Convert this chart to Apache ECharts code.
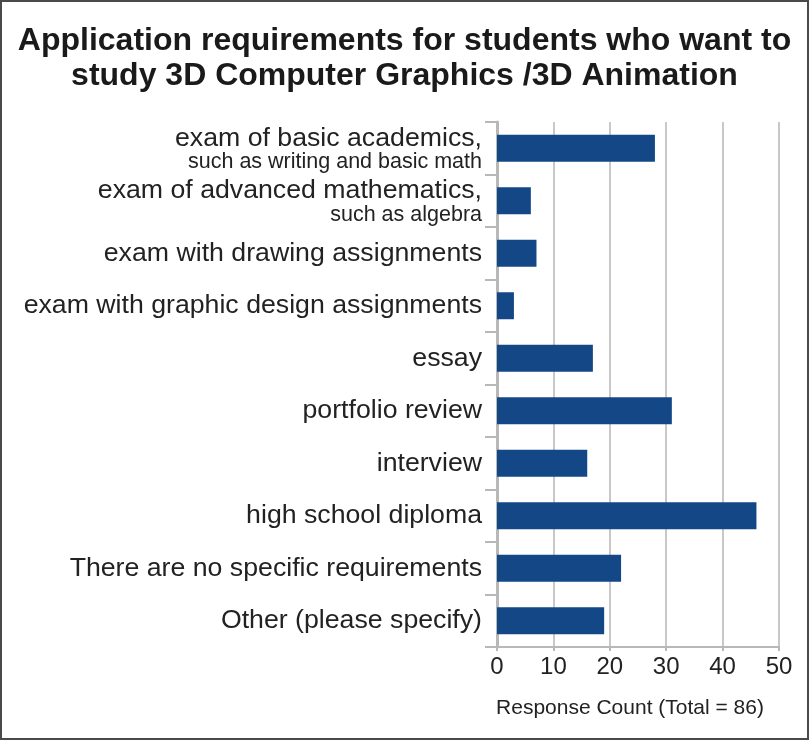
<!DOCTYPE html>
<html>
<head>
<meta charset="utf-8">
<script src="https://cdn.jsdelivr.net/npm/echarts@6/dist/echarts.min.js"></script>
<style>
  html, body { margin: 0; padding: 0; background: #fff; }
  #chart {
    width: 809px;
    height: 740px;
    box-sizing: border-box;
    border: 2px solid #4a4a4a;
  }
</style>
</head>
<body>
<div id="chart"></div>
<script>
// Data
const categories = [
  'exam of basic academics,|such as writing and basic math',
  'exam of advanced mathematics,|such as algebra',
  'exam with drawing assignments',
  'exam with graphic design assignments',
  'essay',
  'portfolio review',
  'interview',
  'high school diploma',
  'There are no specific requirements',
  'Other (please specify)'
]
const counts = [28, 6, 7, 3, 17, 31, 16, 46, 22, 19]
const xTicks = [0, 10, 20, 30, 40, 50]

const titleText = 'Application requirements for students who want to\nstudy 3D Computer Graphics /3D Animation'
const axisTitle = 'Response Count (Total = 86)'

const FONT = '"Liberation Sans", Arial, sans-serif'

const chart = echarts.init(document.getElementById('chart'))

const option = {
  animation: false,
  textStyle: { fontFamily: FONT },
  title: {
    text: titleText,
    left: 'center',
    top: 22,
    padding: [0, 0, 0, 8],
    textStyle: {
      fontFamily: FONT,
      fontSize: 32,
      fontWeight: 'bold',
      color: '#1a1a1a',
      lineHeight: 35
    }
  },
  grid: {
    left: 495,
    right: 28,
    top: 120,
    bottom: 91,
    containLabel: false
  },
  xAxis: {
    type: 'value',
    min: xTicks[0],
    max: xTicks[xTicks.length - 1],
    interval: 10,
    name: axisTitle,
    nameLocation: 'middle',
    nameGap: 51,
    nameTextStyle: {
      fontFamily: FONT,
      fontSize: 21,
      color: '#222',
      padding: [0, 16, 0, 0]
    },
    axisLine: { show: true, lineStyle: { color: '#b8b8b8', width: 2 } },
    axisTick: { show: true, length: 4, lineStyle: { color: '#b8b8b8', width: 2 } },
    axisLabel: { fontFamily: FONT, fontSize: 24, color: '#222', margin: 8 },
    splitLine: { show: true, lineStyle: { color: '#c8c8c8', width: 2 } }
  },
  yAxis: {
    type: 'category',
    inverse: true,
    data: categories,
    axisLine: { show: true, lineStyle: { color: '#b8b8b8', width: 3 } },
    axisTick: { show: true, length: 12, lineStyle: { color: '#b8b8b8', width: 2 } },
    axisLabel: {
      margin: 15,
      color: '#222',
      formatter: function (v) {
        const parts = v.split('|')
        if (parts.length > 1) {
          return '{a|' + parts[0] + '}\n{b|' + parts[1] + '}'
        }
        return '{c|' + v + '}'
      },
      rich: {
        a: { fontFamily: FONT, fontSize: 26.7, lineHeight: 28, color: '#222', align: 'right', padding: [2, 0, 0, 0] },
        b: { fontFamily: FONT, fontSize: 21.5, lineHeight: 22, color: '#222', align: 'right' },
        c: { fontFamily: FONT, fontSize: 26.7, lineHeight: 30, color: '#222', align: 'right' }
      }
    }
  },
  series: [
    {
      type: 'bar',
      data: counts,
      barWidth: 27,
      itemStyle: { color: '#134785' }
    }
  ]
}

chart.setOption(option)
</script>
</body>
</html>
